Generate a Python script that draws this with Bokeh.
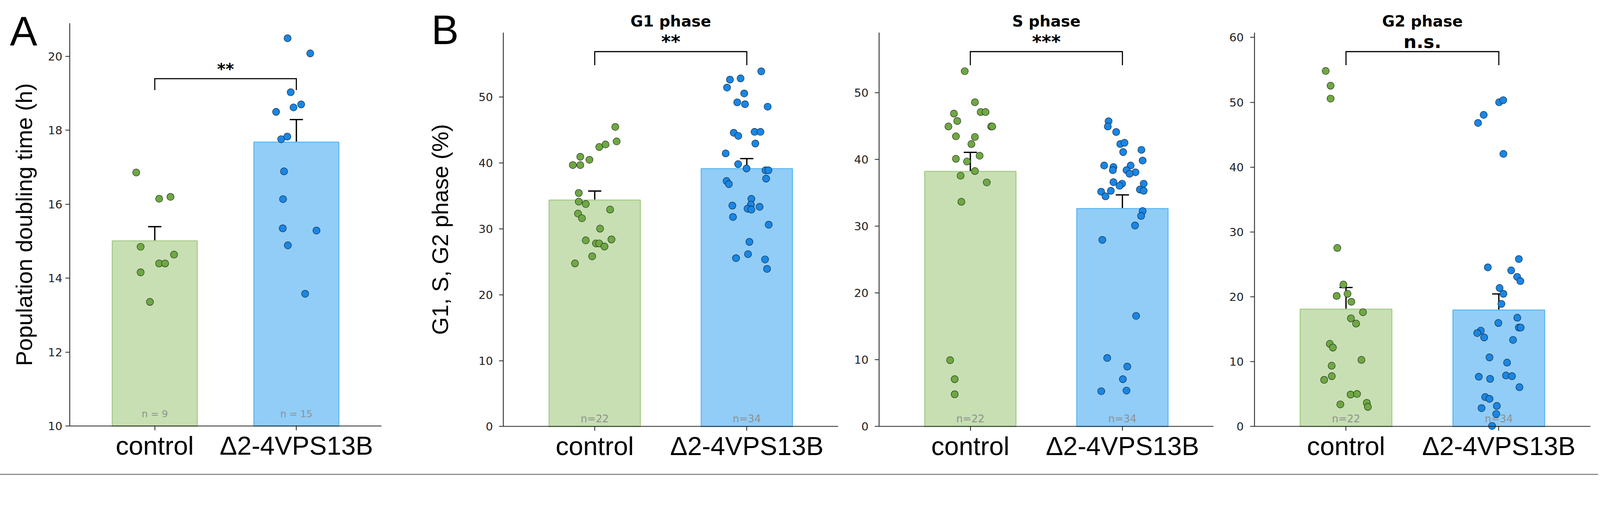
from bokeh.plotting import figure
from bokeh.models import (ColumnDataSource, Range1d, Whisker, TeeHead, FixedTicker, Div)
from bokeh.layouts import row, column
from bokeh.embed import file_html
from bokeh.resources import INLINE
from bokeh.core.properties import value

# ---------------- data ----------------
categories = ["control", "Δ2-4VPS13B"]

# Panel A: population doubling time (h)
a_ctrl_vals = [16.86, 16.15, 16.20, 14.85, 14.64, 14.40, 14.40, 14.16, 13.36]
a_ctrl_jit = [-0.131, 0.031, 0.111, -0.100, 0.136, 0.031, 0.073, -0.100, -0.034]
a_mut_vals = [20.49, 20.08, 19.03, 18.50, 18.62, 18.70, 17.76, 17.83, 16.89,
              16.14, 15.35, 15.29, 14.89, 13.58]
a_mut_jit = [-0.062, 0.098, -0.040, -0.143, -0.020, 0.034, -0.107, -0.064, -0.087,
             -0.094, -0.096, 0.142, -0.060, 0.062]
a_means = [15.01, 17.68]
a_sems = [0.385, 0.61]
a_n = ["n = 9", "n = 15"]
a_sig = "**"

# Panel B: G1 phase (%)
g1_ctrl_vals = [45.48, 43.28, 42.44, 42.82, 40.95, 40.49, 39.69, 39.69, 35.45, 34.14, 33.77,
                32.93, 32.32, 31.62, 30.04, 28.26, 28.40, 27.80, 27.80, 27.33, 25.84, 24.77]
g1_ctrl_jit = [0.135, 0.144, 0.030, 0.071, -0.095, -0.035, -0.144, -0.095, -0.105, -0.105, -0.059,
               0.101, -0.110, -0.084, 0.035, -0.059, 0.110, 0.008, 0.029, 0.064, -0.017, -0.130]
g1_mut_vals = [53.92, 52.66, 52.85, 51.45, 50.56, 49.21, 48.93, 48.55, 44.59, 44.12, 44.73,
               44.73, 42.96, 41.46, 39.83, 39.18, 38.90, 38.90, 37.64, 37.27, 36.80, 34.56,
               33.54, 33.68, 33.07, 32.93, 33.35, 31.81, 30.64, 28.03, 26.17, 25.56, 25.37, 23.93]
g1_mut_jit = [0.095, -0.111, -0.041, -0.130, -0.017, -0.063, -0.012, 0.137, -0.086, -0.056, 0.051,
              0.090, 0.056, -0.139, -0.057, -0.002, 0.123, 0.142, 0.127, -0.133, -0.118, 0.030,
              -0.095, 0.027, 0.005, 0.030, 0.084, -0.091, 0.144, 0.017, 0.008, -0.071, 0.120, 0.133]
g1_means = [34.38, 39.15]
g1_sems = [1.37, 1.52]
g1_sig = "**"

# Panel B: S phase (%)
s_ctrl_vals = [53.22, 48.57, 46.87, 45.76, 47.10, 47.10, 44.94, 44.94, 44.94, 43.46, 43.37,
               42.31, 40.10, 40.56, 39.69, 38.26, 37.57, 36.56, 33.66, 9.94, 7.09, 4.83]
s_ctrl_jit = [-0.037, 0.030, -0.108, -0.086, 0.068, 0.100, -0.144, 0.137, 0.144, -0.095, 0.030,
              0.007, -0.095, 0.061, -0.022, 0.030, -0.064, 0.108, -0.059, -0.133, -0.103, -0.103]
s_mut_vals = [45.72, 44.94, 44.11, 42.31, 42.50, 41.11, 41.44, 39.83, 39.09, 38.86, 38.40,
              39.09, 38.40, 38.08, 37.85, 36.60, 36.37, 36.05, 36.37, 35.17, 35.31, 34.48,
              35.50, 35.31, 32.27, 31.54, 30.11, 27.95, 16.57, 10.27, 8.98, 7.09, 5.29, 5.39]
s_mut_jit = [-0.091, -0.096, -0.041, -0.014, 0.014, 0.005, 0.125, 0.133, -0.120, -0.059, -0.063,
             0.054, 0.027, 0.086, 0.047, -0.059, -0.002, -0.019, 0.140, -0.140, -0.076, -0.111,
             0.115, 0.140, 0.133, 0.123, 0.083, -0.132, 0.090, -0.100, 0.032, 0.003, -0.139, 0.027]
s_means = [38.21, 32.64]
s_sems = [2.85, 2.05]
s_sig = "***"

# Panel B: G2 phase (%)
g2_ctrl_vals = [54.83, 52.56, 50.57, 27.54, 21.90, 20.14, 20.47, 19.24, 17.63, 16.68, 15.88,
                12.75, 12.18, 10.28, 9.38, 7.77, 7.20, 4.93, 5.02, 3.65, 3.41, 3.03]
g2_ctrl_jit = [-0.133, -0.101, -0.101, -0.057, -0.017, -0.061, 0.010, 0.035, 0.111, 0.032, 0.066,
               -0.106, -0.086, 0.101, -0.094, -0.093, -0.143, 0.030, 0.072, 0.136, -0.037, 0.143]
g2_mut_vals = [50.00, 50.33, 48.06, 46.82, 42.04, 25.83, 24.55, 24.08, 23.08, 22.42, 21.37,
               20.47, 18.91, 16.78, 15.97, 15.26, 15.26, 14.79, 14.41, 13.74, 13.36, 10.66,
               9.86, 7.68, 7.35, 7.87, 7.77, 6.07, 4.55, 4.27, 3.18, 2.84, 1.94, 0.09]
g2_mut_jit = [0.002, 0.029, -0.099, -0.136, 0.030, 0.131, -0.072, 0.081, 0.120, 0.141, 0.005,
              0.030, 0.017, 0.121, -0.003, 0.131, 0.143, -0.118, -0.141, -0.096, 0.093, -0.061,
              0.054, -0.131, -0.057, 0.047, 0.086, 0.135, -0.089, -0.061, -0.013, -0.113, -0.017, -0.044]
g2_means = [18.10, 17.96]
g2_sems = [3.34, 2.49]
g2_sig = "n.s."

b_n = ["n=22", "n=34"]

# ---------------- styling / layout ----------------
BAR_FILL = ["#c7dfb3", "#91cdf7"]
BAR_EDGE = ["#a9cc8c", "#62b9f2"]
DOT_FILL = ["#6fa843", "#1a86e4"]
DOT_EDGE = ["#1f2d17", "#0c2640"]
TICK_FONT = "DejaVu Sans"
LABEL_FONT = "Liberation Sans"

K = 1.066          # screenshot px per CSS px (measured)
FIG_H = 1214       # CSS px
BASE_SHIFT = 0.2   # baseline correction, fraction of the font size


def css(v):
    return v / K


def icss(v):
    return int(round(v / K))


def fpx(v):
    return f"{v / K:.1f}px"


def make_panel(left_css, right_css, axis_x, unit, ybot, ytop, ylim, yticks, means, sems,
               ctrl_vals, ctrl_jit, mut_vals, mut_jit, n_text, n_base, n_size,
               sig, sig_size, sig_base, bracket_px, leg_px, ylabel=None,
               label_standoff=20, tick_standoff=10, title=None, letter=None):
    """Geometry arguments are in screenshot pixels (page coordinates)."""
    y0, y1 = ylim
    width = right_css - left_css
    x0_px = axis_x + 0.6 * unit            # pixel position of first category
    canvas_l = left_css * K
    canvas_r = right_css * K
    xs = (canvas_l - x0_px) / unit
    xe = (canvas_r - x0_px) / unit
    pxpu = (ybot - ytop) / (y1 - y0)
    canvas_top = 8 * K
    canvas_bot = (8 + FIG_H) * K
    ys = y0 - (canvas_bot - ybot) / pxpu
    ye = y0 + (ybot - canvas_top) / pxpu

    def dx(px):
        return (px - x0_px) / unit

    def dy(px, size=0.0):
        return y0 + (ybot - (px - BASE_SHIFT * size)) / pxpu

    p = figure(width=width, height=FIG_H, x_range=Range1d(xs, xe), y_range=Range1d(ys, ye),
               output_backend="svg", toolbar_location=None,
               min_border_left=0, min_border_right=0, min_border_top=0,
               min_border_bottom=0)
    p.outline_line_color = None
    p.xgrid.visible = False
    p.ygrid.visible = False
    p.background_fill_color = "white"
    p.border_fill_color = "white"

    idx = list(range(len(categories)))

    # bars
    bar_src = ColumnDataSource(dict(x=idx, top=means, fill=BAR_FILL, edge=BAR_EDGE,
                                    upper=[m + s for m, s in zip(means, sems)],
                                    lower=[m - s for m, s in zip(means, sems)]))
    p.vbar(x="x", top="top", bottom=y0, width=0.6, source=bar_src,
           fill_color="fill", line_color="edge", line_width=2.8)

    # n labels
    p.text(x=idx, y=[dy(n_base, n_size)] * 2, text=n_text, text_align="center",
           text_baseline="alphabetic", text_color="#8f8f8f",
           text_font=value(TICK_FONT), text_font_size=fpx(n_size))

    # dots
    for i, vals, jit in ((0, ctrl_vals, ctrl_jit), (1, mut_vals, mut_jit)):
        src = ColumnDataSource(dict(x=[i + j for j in jit], y=vals))
        p.scatter(x="x", y="y", source=src, size=css(19.5), fill_color=DOT_FILL[i],
                  line_color=DOT_EDGE[i], line_width=1.2)

    # error bars
    p.add_layout(Whisker(source=bar_src, base="x", upper="upper", lower="lower",
                         line_color="black", line_width=css(3.6),
                         upper_head=TeeHead(size=css(36), line_width=css(3.6), line_color="black"),
                         lower_head=TeeHead(size=css(36), line_width=css(3.6), line_color="black")))

    # significance bracket + text
    by, ly = dy(bracket_px), dy(leg_px)
    p.line(x=[0, 0, 1, 1], y=[ly, by, by, ly], line_color="black", line_width=css(3),
           line_join="miter")
    p.text(x=[0.5], y=[dy(sig_base, sig_size)], text=[sig], text_align="center",
           text_baseline="alphabetic", text_font=value(TICK_FONT), text_font_style="bold",
           text_font_size=fpx(sig_size), text_color="black")

    if title is not None:
        p.text(x=[0.5], y=[dy(74, 42)], text=[title], text_align="center",
               text_baseline="alphabetic", text_font=value(TICK_FONT),
               text_font_style="bold", text_font_size=fpx(42), text_color="black")
    if letter is not None:
        txt, lx, lb = letter
        p.text(x=[dx(lx)], y=[dy(lb, 125)], text=[txt], text_align="left",
               text_baseline="alphabetic", text_font=value(LABEL_FONT),
               text_font_size=fpx(112), text_color="black")

    # axes
    for ax in (p.xaxis[0], p.yaxis[0]):
        ax.axis_line_color = "#222222"
        ax.axis_line_width = css(2.3)
        ax.major_tick_line_color = "#222222"
        ax.major_tick_line_width = css(2.2)
        ax.major_tick_out = icss(12)
        ax.major_tick_in = 0
        ax.minor_tick_line_color = None
    p.xaxis.fixed_location = y0
    p.xaxis.bounds = (-0.6, 1.6)
    p.xaxis.ticker = FixedTicker(ticks=idx)
    p.xaxis.major_label_overrides = {i: c for i, c in zip(idx, categories)}
    p.xaxis.major_label_text_font = LABEL_FONT
    p.xaxis.major_label_text_font_size = fpx(71)
    p.xaxis.major_label_text_color = "black"
    p.xaxis.major_label_standoff = 2

    p.yaxis.fixed_location = -0.6
    p.yaxis.bounds = (y0, y1)
    p.yaxis.ticker = FixedTicker(ticks=yticks)
    p.yaxis.major_label_text_font = TICK_FONT
    p.yaxis.major_label_text_font_size = fpx(31)
    p.yaxis.major_label_text_color = "#222222"
    p.yaxis.major_label_standoff = icss(tick_standoff)
    if ylabel:
        p.yaxis.axis_label = ylabel
        p.yaxis.axis_label_text_font = LABEL_FONT
        p.yaxis.axis_label_text_font_size = fpx(62)
        p.yaxis.axis_label_text_font_style = "normal"
        p.yaxis.axis_label_text_color = "black"
        p.yaxis.axis_label_standoff = icss(label_standoff)
    return p


# figure boundaries in CSS px
b = [8, round(1120 / K), round(2315 / K), round(3340 / K), round(4370 / K)]

pA = make_panel(b[0], b[1], 198.5, 386.4, 1172, 71, (10, 20.9), [10, 12, 14, 16, 18, 20],
                a_means, a_sems, a_ctrl_vals, a_ctrl_jit, a_mut_vals, a_mut_jit,
                a_n, 1144, 26, a_sig, 44, 205, 223, 254,
                ylabel="Population doubling time (h)", label_standoff=27,
                tick_standoff=9, letter=("A", 35, 118))

pG1 = make_panel(b[1], b[2], 1382, 415, 1173, 97, (0, 59.8), [0, 10, 20, 30, 40, 50],
                 g1_means, g1_sems, g1_ctrl_vals, g1_ctrl_jit, g1_mut_vals, g1_mut_jit,
                 b_n, 1157, 28, g1_sig, 50, 131, 149, 186,
                 ylabel="G1, S, G2 phase (%)", label_standoff=66,
                 tick_standoff=17, title="G1 phase", letter=("B", 1185, 115))

pS = make_panel(b[2], b[3], 2407, 415, 1173, 97, (0, 59.0), [0, 10, 20, 30, 40, 50],
                s_means, s_sems, s_ctrl_vals, s_ctrl_jit, s_mut_vals, s_mut_jit,
                b_n, 1157, 28, s_sig, 50, 131, 149, 186,
                tick_standoff=17, title="S phase")

pG2 = make_panel(b[3], b[4], 3431, 417, 1173, 97, (0, 60.75), [0, 10, 20, 30, 40, 50, 60],
                 g2_means, g2_sems, g2_ctrl_vals, g2_ctrl_jit, g2_mut_vals, g2_mut_jit,
                 b_n, 1157, 28, g2_sig, 50, 131, 149, 186,
                 tick_standoff=17, title="G2 phase")

rule = Div(text="", width=b[4] - 8, height=3, margin=(0, 0, 0, 0),
           styles={"background-color": "#8c8c8c"})

layout = column(row(pA, pG1, pS, pG2), rule)

with open("out.html", "w") as f:
    f.write(file_html(layout, INLINE))
